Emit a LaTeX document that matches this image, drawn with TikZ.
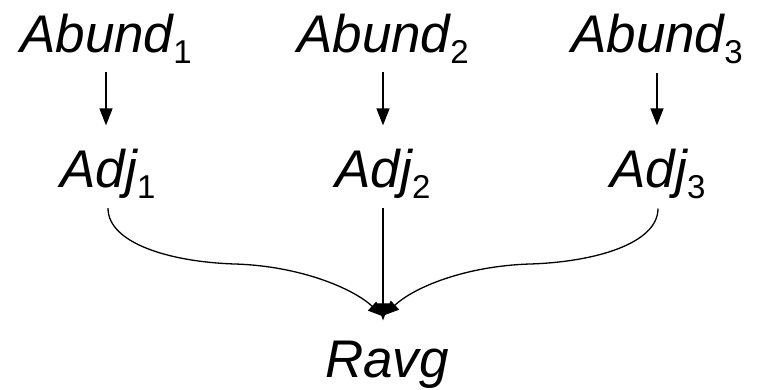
\documentclass[tikz,border=0pt]{standalone}
\usepackage{fontspec}
\setmainfont{Liberation Sans}
\usetikzlibrary{arrows.meta}
% lowered, upright index after an italic name
\newcommand{\lowidx}[1]{\raisebox{-11pt}{\fontsize{33}{33}\selectfont\upshape #1}}
\begin{document}
\begin{tikzpicture}[x=1pt,y=-1pt,
  var/.style={inner sep=0pt, anchor=base, font=\fontsize{53}{60}\selectfont\itshape},
  arr/.style={line width=1.3pt, -{Triangle[length=17pt,width=13pt]}},
  link/.style={line width=1.3pt, -{Triangle[length=15pt,width=12pt]}}]
\useasboundingbox (0,0) rectangle (758,389);

% top row
\node[var] (ab1) at (106,52) {Abund\lowidx{1}};
\node[var] (ab2) at (383,52) {Abund\lowidx{2}};
\node[var] (ab3) at (657,52) {Abund\lowidx{3}};
% middle row
\node[var] (adj1) at (108,187) {Adj\lowidx{1}};
\node[var] (adj2) at (383,187) {Adj\lowidx{2}};
\node[var] (adj3) at (658,187) {Adj\lowidx{3}};
% result
\node[var] (rv) at (387,377) {Ravg};

% vertical arrows between the two upper rows
\foreach \i in {1,2,3}
  \draw[arr, shorten <=9pt, shorten >=23pt] (ab\i.south) -- (ab\i.south |- adj\i.north);

% meeting points of the three lower arrows
\coordinate (tip) at ([yshift=20pt]adj2.south |- rv.north);
\coordinate (tipL) at ([yshift=24pt]adj2.south |- rv.north);
\coordinate (tipR) at ([yshift=25pt,xshift=1pt]adj2.south |- rv.north);
\coordinate (m1) at (235,264);
\coordinate (m3) at (530,264);

\draw[arr, shorten <=10pt] (adj2.south) -- (tip);
\draw[link] ([yshift=-10pt]adj1.south) .. controls +(0,35) and +(-65,-2) .. (m1)
  .. controls +(65,2) and +(-30,-28) .. (tipL);
\draw[link] ([yshift=-10pt]adj3.south) .. controls +(0,35) and +(65,-2) .. (m3)
  .. controls +(-65,2) and +(30,-28) .. (tipR);
\end{tikzpicture}
\end{document}
